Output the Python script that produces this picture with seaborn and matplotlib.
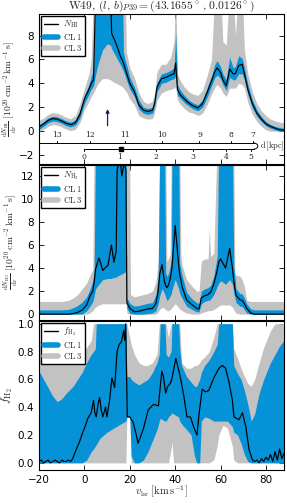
import numpy as np
import pandas as pd
import matplotlib
matplotlib.use('Agg')
import matplotlib.pyplot as plt
from matplotlib.lines import Line2D
import seaborn as sns

# ---------------- data ----------------
T1 = 12.0   # "off the top" value, HI panel
T2 = 15.0   # "off the top" value, H2 panel

# HI panel: v, N_HI, CL1 lo, CL1 hi, CL3 lo, CL3 hi
hi_v   = [-20,-18,-16,-14,-12,-10,-8,-6,-4,-2,0,2,3,4,5,6,8,10,11.5,12,14,16,16.8,17.2,18,18.5,20,22,24,26,28,30,31,32,34,36,38,39.5,40.2,41,42,44,46,48,50,52,54,56,57.5,58.5,60,61,62.5,64,65.5,66.5,68,69.5,70.5,72,74,76,78,80,82,84,86,88]
hi_n   = [0.35,0.6,0.9,1.05,1.0,0.85,0.65,0.55,0.7,1.4,2.7,3.5,4.0,4.3,T1,T1,T1,T1,T1,8.2,7.3,6.2,5.9,5.7,5.2,4.9,4.0,3.3,2.2,1.75,1.65,1.75,2.4,3.7,4.4,4.5,4.7,4.8,5.7,3.5,3.1,2.7,2.35,2.1,1.95,2.3,3.2,4.2,5.0,5.3,4.9,4.3,3.8,5.2,4.8,4.8,5.5,5.6,4.8,3.5,2.3,1.5,1.0,0.6,0.4,0.25,0.12,0.08]
hi_blo = [0.15,0.4,0.7,0.85,0.8,0.65,0.45,0.35,0.5,1.1,2.3,3.1,3.5,3.8,4.8,5.6,6.8,7.3,7.2,6.9,6.2,5.5,5.2,5.0,4.6,4.3,3.5,2.9,1.85,1.5,1.4,1.5,2.1,3.3,4.0,4.1,4.3,4.4,4.6,3.0,2.8,2.4,2.1,1.85,1.7,2.0,2.8,3.8,4.5,4.7,4.4,3.9,3.4,4.5,4.3,4.3,4.8,4.8,4.3,3.1,1.95,1.25,0.8,0.45,0.25,0.1,0.0,0.0]
hi_bhi = [0.55,0.8,1.1,1.25,1.2,1.05,0.85,0.75,0.95,1.7,3.0,3.9,4.6,5.2,T1,T1,T1,T1,T1,T1,T1,T1,T1,6.6,5.9,5.6,4.5,3.7,2.6,2.0,1.9,2.0,2.7,4.1,4.8,4.9,5.1,5.3,8.3,3.9,3.5,3.0,2.6,2.35,2.2,2.6,3.6,4.6,5.6,5.9,5.4,4.8,4.3,6.2,5.3,5.4,6.3,6.1,5.3,3.9,2.6,1.75,1.2,0.8,0.55,0.4,0.3,0.25]
hi_glo = [0.0,0.15,0.4,0.55,0.5,0.35,0.15,0.05,0.15,0.7,1.8,2.5,2.9,3.2,3.6,4.0,4.4,4.4,4.3,4.2,4.0,3.8,3.7,3.6,3.4,3.3,2.7,2.2,1.3,1.1,1.0,1.05,1.6,2.6,3.2,3.4,3.5,3.6,3.7,2.6,2.3,1.9,1.6,1.5,1.3,1.5,2.2,3.1,3.7,3.9,3.6,3.2,2.9,3.6,3.6,3.6,4.0,3.9,3.6,2.4,1.4,0.8,0.4,0.1,0.0,0.0,0.0,0.0]
hi_ghi = [0.9,1.1,1.4,1.55,1.5,1.35,1.15,1.05,1.3,2.3,3.6,4.8,6.0,T1,T1,T1,T1,T1,T1,T1,T1,T1,T1,T1,T1,6.6,5.3,4.5,3.2,2.5,2.3,2.5,3.3,5.0,5.6,5.6,6.2,7.5,T1,4.8,4.3,3.7,3.3,3.1,3.0,3.4,4.6,6.0,T1,T1,T1,7.5,7.2,T1,T1,8.0,T1,T1,6.8,4.8,3.3,2.3,1.7,1.3,1.0,0.85,0.75,0.7]

# H2 panel
h2_v   = [-20,-10,-7,-5,-3,-1,1,2.5,3.7,4.3,4.9,6.4,8.1,10.4,11.9,13.0,14.0,14.4,15.6,16.5,17.5,18.3,18.7,19.9,20.3,22,24,26,28,30,31.5,32.5,33.2,34.2,35.3,35.8,36.3,37.0,37.8,38.3,38.6,40.0,41.5,42.0,42.5,43,45,47.5,49.5,50.5,51.5,53,54.5,55,55.6,57,58.5,59.2,60,62.2,64,65.2,65.8,66.3,66.8,68.5,69.5,70.5,71.5,73.3,75,88]
h2_n   = [0,0,0.0,0.05,0.15,0.35,0.8,1.6,2.0,2.8,3.9,4.9,3.8,4.25,6.0,4.5,5.5,12.5,13.5,12.0,13.2,12.5,1.0,0.55,0.45,0.2,0.25,0.35,0.45,0.5,0.9,2.0,3.5,4.3,2.8,2.5,2.3,2.5,3.1,3.6,4.1,7.7,4.3,3.4,3.0,2.4,1.25,0.8,0.5,0.45,1.4,1.6,1.7,1.8,1.9,2.6,3.8,4.5,4.8,4.0,5.7,4.0,3.0,2.2,1.65,1.25,1.2,0.9,0.5,0.1,0,0]
h2_blo = [0,0,0,0,0,0,0.3,0.7,1.1,1.6,2.2,2.6,3.0,3.1,3.1,3.2,3.2,3.3,3.4,3.5,3.6,3.7,0.5,0.1,0.05,0,0,0,0.05,0.1,0.3,0.9,1.6,2.2,1.8,1.5,1.2,1.3,1.6,1.8,2.1,3.0,2.2,1.8,1.6,1.4,0.7,0.4,0.2,0.2,0.9,1.1,1.2,1.2,1.3,1.7,2.4,2.7,2.9,2.6,3.0,2.6,1.9,1.4,1.0,0.7,0.65,0.4,0.1,0,0,0]
h2_bhi = [0.37,0.37,0.42,0.55,0.75,1.05,1.5,2.2,2.9,3.8,T2,T2,T2,T2,T2,T2,T2,T2,T2,T2,T2,T2,1.4,1.0,0.9,0.7,0.75,0.85,0.95,1.0,1.7,3.3,T2,T2,T2,3.6,3.3,3.5,4.2,4.8,T2,T2,T2,4.4,3.9,3.4,1.9,1.3,1.0,0.9,2.0,2.2,2.3,2.4,2.5,3.3,5.0,T2,T2,T2,T2,T2,4.2,3.2,2.2,1.8,1.75,1.4,0.9,0.45,0.37,0.37]
h2_glo = [0,0,0,0,0,0,0,0.1,0.3,0.5,0.6,0.8,0.9,0.9,0.9,0.9,0.9,0.9,0.9,0.9,0.9,0.9,0.1,0,0,0,0,0,0,0,0,0.2,0.4,0.6,0.5,0.4,0.3,0.3,0.4,0.5,0.6,0.9,0.6,0.4,0.4,0.3,0.1,0,0,0,0.1,0.2,0.3,0.3,0.3,0.4,0.6,0.7,0.8,0.8,0.8,0.6,0.4,0.2,0.1,0,0,0,0,0,0,0]
h2_ghi = [1.1,1.1,1.2,1.4,1.7,2.2,2.7,3.4,3.9,T2,T2,T2,T2,T2,T2,T2,T2,T2,T2,T2,T2,T2,T2,T2,1.7,1.5,1.6,1.7,1.8,2.0,2.8,4.5,T2,T2,T2,T2,4.6,4.8,5.2,T2,T2,T2,T2,T2,5.0,4.3,3.0,2.4,2.0,2.0,4.6,4.8,4.8,7.5,5.0,5.3,T2,T2,T2,T2,T2,T2,T2,3.6,3.4,3.3,3.0,2.4,1.2,1.1,1.1,1.1]

# f_H2 panel bands
fb_v   = [-20,-17,-14,-12,-10,-8,-5,-3,-1,1,3,4,4.8,5.2,7,10,13,16,18.3,18.7,20.0,20.6,22,24,26,28,30,32,33,33.4,35.5,36,37,38.2,38.6,39.3,41.5,42,42.8,45,47,48.5,49.5,50.8,51.5,53,55,57,58.5,59.2,61,63,65.2,65.8,67.5,69,70.5,72,73.5,75,77,79,82,84,86,88]
fb_blo = [0,0,0,0,0,0,0,0,0,0.02,0.08,0.1,0.12,0.13,0.18,0.22,0.25,0.28,0.3,0.33,0.33,0.05,0,0,0.02,0.08,0.16,0.24,0.3,0.32,0.3,0.3,0.33,0.35,0.36,0.35,0.33,0.3,0.28,0.24,0.2,0.05,0,0,0.3,0.33,0.32,0.3,0.3,0.3,0.3,0.3,0.26,0.22,0.2,0.14,0.06,0.01,0,0,0,0,0,0,0,0]
fb_bhi = [0.66,0.57,0.48,0.44,0.46,0.5,0.55,0.6,0.65,0.72,0.78,0.8,0.82,1,1,1,1,1,1,0.62,0.62,0.6,0.58,0.56,0.58,0.6,0.65,0.72,0.78,1,1,0.78,0.76,0.8,1,1,1,0.82,0.7,0.62,0.58,0.55,0.55,0.6,0.65,0.7,0.74,0.8,0.85,1,1,1,1,0.7,0.64,0.6,0.52,0.42,0.3,0.35,0.5,0.6,0.72,0.78,0.84,0.88]
fb_glo = [0,0,0,0,0,0,0,0,0,0,0,0,0,0,0,0,0,0,0,0.33,0.33,0,0,0,0,0,0,0,0,0,0,0,0,0.1,0.15,0,0,0,0,0,0,0,0,0,0,0,0,0.02,0.12,0.2,0.27,0.25,0.12,0.02,0,0,0,0,0,0,0,0,0,0,0,0]
fb_ghi = [0.88,0.84,0.8,0.77,0.76,0.77,0.78,0.8,0.8,0.83,0.88,1,1,1,1,1,1,1,1,1,0.9,0.85,0.78,0.72,0.7,0.7,0.72,0.78,1,1,1,1,0.9,1,1,1,1,1,0.72,0.68,0.68,0.7,0.7,0.72,0.74,0.76,0.8,0.9,1,1,1,1,1,0.82,0.75,0.68,0.62,0.57,0.55,0.6,0.72,0.83,0.95,1,1,1]

# f_H2 mean line
f_v = [-20,-19,-18,-17,-16,-15,-14,-13,-12,-11,-10,-9,-8,-7,-6,-5.2,-4,-3,-2.2,-0.7,0.5,1.5,3,4,4.6,5.2,6,6.7,7.4,8.1,9.3,9.9,11.1,12.1,13.3,14.4,15.3,16.3,17.3,17.7,18.2,18.6,18.9,20,21.5,23,23.6,25.9,28.1,30.4,32.6,34.1,34.8,35.8,36.7,37.8,38.5,40.3,42.2,43.7,45.2,46.7,48.1,49.6,50.5,51.9,53.3,54.8,57,59.3,60.7,62.2,63.7,65.2,65.9,68.1,69.6,71.1,72.6,74.1,75,76,77,78,79,80,81,82,83,84,85,86,87,88]
f_h2 = [0.01,0.02,0.0,0.01,0.02,0.0,0.01,0.02,0.01,0.0,0.02,0.01,0.01,0.02,0.01,0.03,0.08,0.12,0.15,0.22,0.27,0.32,0.36,0.45,0.36,0.33,0.42,0.47,0.38,0.33,0.4,0.33,0.45,0.61,0.54,0.8,0.85,0.87,0.95,0.88,1.0,0.6,0.33,0.33,0.29,0.19,0.14,0.24,0.38,0.42,0.41,0.66,0.62,0.5,0.55,0.57,0.6,0.75,0.62,0.49,0.33,0.33,0.26,0.2,0.35,0.53,0.51,0.52,0.61,0.68,0.7,0.68,0.58,0.45,0.33,0.31,0.36,0.26,0.09,0.02,0.01,0.02,0.0,0.03,0.01,0.04,0.02,0.06,0.01,0.08,0.02,0.1,0.03,0.07]

# kinematic distance axis (far side above, near side below)
far_d  = [13, 12, 11, 10, 9, 8, 7]
far_v  = [-11.9, 2.6, 17.8, 34.4, 50.7, 64.4, 74.4]
near_d = [0, 1, 2, 3, 4, 5]
near_v = [0, 15.5, 31.4, 47.7, 62.5, 73.2]
src_v  = 16.3
arrow_v = 10.2

BLUE = '#0592d6'
GREY = '#c2c2c2'

# ---------------- style ----------------
sns.set_style('ticks', {'xtick.direction': 'in', 'ytick.direction': 'in'})
plt.rcParams.update({
    'mathtext.fontset': 'cm',
    'xtick.top': True, 'ytick.right': True,
    'xtick.major.size': 3.5, 'ytick.major.size': 3.5,
    'xtick.major.width': 0.6, 'ytick.major.width': 0.6,
    'xtick.labelsize': 7.5, 'ytick.labelsize': 7.5,
    'axes.linewidth': 0.8, 'axes.edgecolor': 'black',
    'xtick.color': 'black', 'ytick.color': 'black',
})

fig = plt.figure(figsize=(2.87, 5.03), dpi=100)
L, W = 0.136, 0.854
ax1 = fig.add_axes([L, 0.674, W, 0.298])
ax2 = fig.add_axes([L, 0.364, W, 0.308], sharex=ax1)
ax3 = fig.add_axes([L, 0.066, W, 0.296], sharex=ax1)


def panel(ax, v, lo3, hi3, lo1, hi1, vl, yl, lab):
    ax.fill_between(v, lo3, hi3, color=GREY, lw=0)
    ax.fill_between(v, lo1, hi1, color=BLUE, lw=0)
    df = pd.DataFrame({'v': vl, 'y': yl})
    sns.lineplot(data=df, x='v', y='y', ax=ax, color='black', lw=0.85,
                 estimator=None, sort=False)
    hnd = [Line2D([], [], color='black', lw=1),
           Line2D([], [], color=BLUE, lw=4),
           Line2D([], [], color=GREY, lw=4)]
    ax.legend(hnd, [lab, r'$\mathrm{CL\,1}$', r'$\mathrm{CL\,3}$'],
              loc='upper left', fontsize=6.3, frameon=True, fancybox=False,
              edgecolor='black', framealpha=1, handlelength=1.6,
              borderpad=0.3, labelspacing=0.15, handletextpad=0.6,
              borderaxespad=0.25)
    ax.set_xlabel('')
    ax.set_ylabel('')


panel(ax1, hi_v, hi_glo, hi_ghi, hi_blo, hi_bhi, hi_v, hi_n, r'$N_\mathrm{HI}$')
panel(ax2, h2_v, h2_glo, h2_ghi, h2_blo, h2_bhi, h2_v, h2_n, r'$N_{\mathrm{H}_2}$')
panel(ax3, fb_v, fb_glo, fb_ghi, fb_blo, fb_bhi, f_v, f_h2, r'$f_{\mathrm{H}_2}$')

ax1.set_xlim(-20, 88)
ax1.set_ylim(-2.75, 9.8)
ax2.set_ylim(-0.5, 12.95)
ax3.set_ylim(-0.05, 1.02)
ax1.set_yticks([-2, 0, 2, 4, 6, 8])
ax2.set_yticks([0, 2, 4, 6, 8, 10, 12])
ax3.set_yticks([0.0, 0.2, 0.4, 0.6, 0.8, 1.0])
ax3.set_xticks([-20, 0, 20, 40, 60, 80])
ax1.tick_params(labelbottom=False)
ax2.tick_params(labelbottom=False)

# distance axis in the HI panel
yf, yn = -1.0, -1.5
vt = 74.6
ax1.plot([-20, vt], [yf, yf], color='black', lw=0.7)
ax1.plot([0, vt], [yn, yn], color='black', lw=0.7)
th = np.linspace(-np.pi / 2, np.pi / 2, 30)
ax1.plot(vt + 1.8 * np.cos(th), (yf + yn) / 2 + 0.25 * np.sin(th), color='black', lw=0.7)
for d, v in zip(far_d, far_v):
    ax1.plot([v, v], [yf, yf + 0.18], color='black', lw=0.7)
    ax1.text(v, yf + 0.3, str(d), ha='center', va='bottom', fontsize=5.5, family='serif')
for d, v in zip(near_d, near_v):
    ax1.plot([v, v], [yn, yn - 0.18], color='black', lw=0.7)
    ax1.text(v, yn - 0.3, str(d), ha='center', va='top', fontsize=5.5, family='serif')
ax1.plot([src_v], [yn], marker='s', ms=2.5, color='black')
ax1.text(77.5, (yf + yn) / 2, r'$\mathrm{d\,[kpc]}$', ha='left', va='center', fontsize=6)
ax1.annotate('', xy=(arrow_v, 1.85), xytext=(arrow_v, 0.45),
             arrowprops=dict(arrowstyle='-|>', color='#1f1f5a', lw=0.9,
                             mutation_scale=5, shrinkA=0, shrinkB=0))

ax1.set_title(r'$\mathrm{W49},\,(l,\,b)_{P39}=(43.1655^\circ\,,\,0.0126^\circ)$',
              fontsize=8.3, pad=1.5)
ax1.set_ylabel(r'$\frac{\mathrm{d}N_\mathrm{HI}}{\mathrm{d}v}\;[10^{20}\,\mathrm{cm^{-2}\,km^{-1}\,s}]$',
               fontsize=7, labelpad=0)
ax2.set_ylabel(r'$\frac{\mathrm{d}N_{\mathrm{H}_2}}{\mathrm{d}v}\;[10^{20}\,\mathrm{cm^{-2}\,km^{-1}\,s}]$',
               fontsize=7, labelpad=0)
ax3.set_ylabel(r'$f_{\mathrm{H}_2}$', fontsize=8.5, labelpad=2)
ax3.set_xlabel(r'$v_\mathrm{lsr}\;[\mathrm{km\,s^{-1}}]$', fontsize=7.5, labelpad=-0.5)

fig.savefig('out.png', dpi=100)
